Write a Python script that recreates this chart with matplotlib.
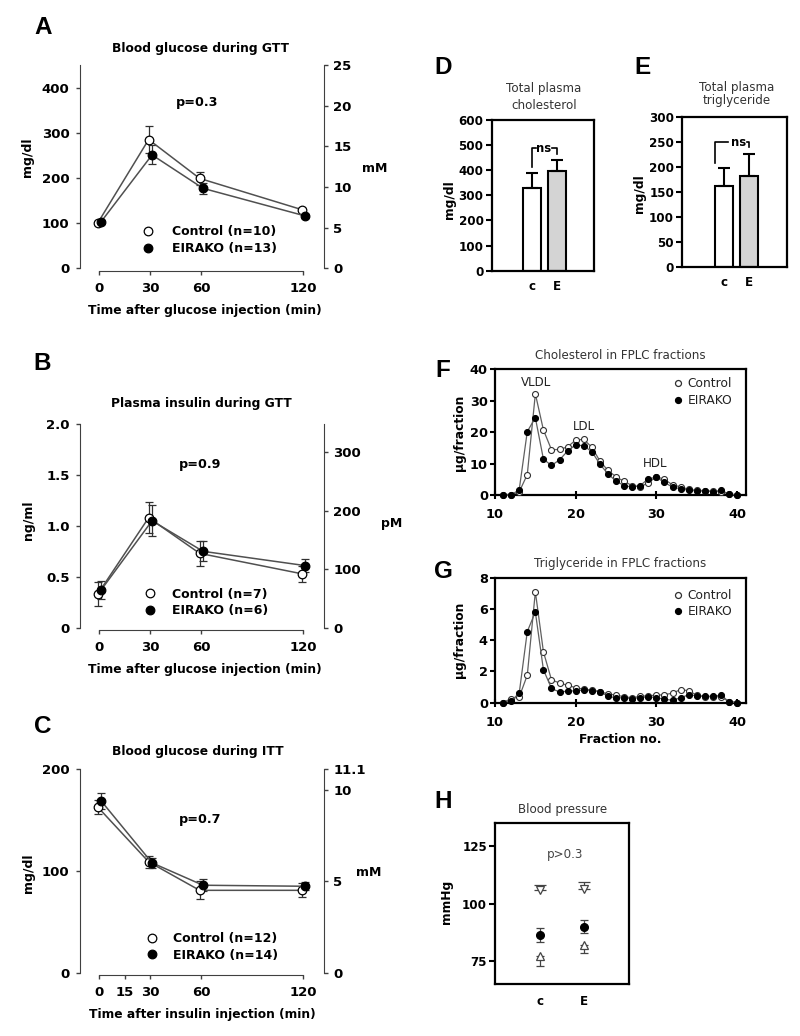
import numpy as np
import matplotlib.pyplot as plt
from matplotlib.lines import Line2D

plt.rcParams['font.family'] = 'DejaVu Sans'
plt.rcParams['font.weight'] = 'bold'

# ---- data ----
gtt_time = [0, 30, 60, 120]
gtt_glu_ctrl = [100, 285, 199, 130]
gtt_glu_ctrl_err = [4, 30, 15, 4]
gtt_glu_ko = [103, 251, 177, 116]
gtt_glu_ko_err = [4, 21, 12, 4]

gtt_ins_ctrl = [0.33, 1.08, 0.73, 0.53]
gtt_ins_ctrl_err = [0.12, 0.15, 0.12, 0.08]
gtt_ins_ko = [0.37, 1.05, 0.75, 0.61]
gtt_ins_ko_err = [0.09, 0.15, 0.10, 0.06]

itt_time = [0, 30, 60, 120]
itt_glu_ctrl = [163, 109, 81, 81]
itt_glu_ctrl_err = [7, 6, 9, 7]
itt_glu_ko = [169, 108, 86, 85]
itt_glu_ko_err = [8, 5, 6, 4]

groups = ['c', 'E']
chol_total = [328, 397]
chol_total_err = [62, 44]
tg_total = [162, 181]
tg_total_err = [35, 44]

fractions = list(range(11, 41))
chol_ctrl = [0, 0, 1.0, 6.5, 32.2, 20.7, 14.4, 14.5, 15.3, 17.5, 17.7, 15.2, 10.8, 7.8, 5.8,
             4.3, 3.0, 2.6, 3.9, 5.8, 5.0, 3.2, 2.6, 1.8, 1.5, 1.4, 1.2, 1.0, 0.3, 0]
chol_ko = [0, 0, 1.7, 20.2, 24.6, 11.4, 9.4, 11.2, 14.0, 16.0, 15.6, 13.8, 9.8, 6.7, 4.4,
           3.0, 2.5, 3.0, 5.2, 5.6, 4.0, 2.5, 2.0, 1.5, 1.3, 1.2, 1.1, 1.5, 0.3, 0]
tg_ctrl = [0, 0.25, 0.35, 1.75, 7.1, 3.25, 1.45, 1.25, 1.1, 0.95, 0.85, 0.8, 0.7, 0.55, 0.47,
           0.37, 0.3, 0.4, 0.43, 0.47, 0.5, 0.6, 0.83, 0.75, 0.47, 0.37, 0.37, 0.37, 0.05, 0]
tg_ko = [0, 0.1, 0.6, 4.55, 5.8, 2.1, 0.9, 0.67, 0.73, 0.75, 0.8, 0.75, 0.7, 0.4, 0.3,
         0.3, 0.25, 0.32, 0.36, 0.32, 0.2, 0.15, 0.3, 0.5, 0.43, 0.4, 0.4, 0.47, 0.05, 0]

bp_sys = [106, 106.5]
bp_sys_err = [2, 3]
bp_mean = [86.5, 90]
bp_mean_err = [3, 3]
bp_dia = [77, 82]
bp_dia_err = [4.3, 3.3]

W, H = 800, 1036
fig = plt.figure(figsize=(W / 100, H / 100), dpi=100)


def fx(x):
    return x / W


def fy(y):
    return 1 - y / H


def rect(l, t, r, b):
    return [fx(l), fy(b), (r - l) / W, (b - t) / H]


def label(x, y, s, **kw):
    kw.setdefault('ha', 'center')
    kw.setdefault('va', 'baseline')
    fig.text(fx(x), fy(y), s, **kw)


def key(x, y, filled, ms, mec='black'):
    fig.add_artist(Line2D([fx(x)], [fy(y)], marker='o', ms=ms, ls='none',
                          mfc='black' if filled else 'white', mec=mec, mew=0.9,
                          transform=fig.transFigure))


SP = '#404040'


def time_panel(times, xticks, ctrl, ctrl_err, ko, ko_err, ymax, yticks, ytl,
               rmax, rticks, rtl, top, bottom):
    ax = fig.add_axes(rect(80, top, 324, bottom))
    t = np.array(times, float)
    for dx, y, e, fc in [(-0.8, ctrl, ctrl_err, 'white'), (1.2, ko, ko_err, 'black')]:
        ax.errorbar(t + dx, y, yerr=e, color='#505050', lw=1.1, marker='o', ms=6.2,
                    mfc=fc, mec='black', mew=0.9, ecolor='#303030', elinewidth=0.9,
                    capsize=2.8, capthick=0.9, zorder=3)
    ax.set_xlim(-11.2, 132.4)
    ax.set_ylim(0, ymax)
    ax.set_xticks(xticks)
    ax.set_yticks(yticks)
    ax.set_yticklabels(ytl)
    for s in ['top', 'right']:
        ax.spines[s].set_visible(False)
    ax.spines['left'].set_bounds(0, ymax)
    ax.spines['bottom'].set_bounds(0, 120)
    ax.spines['bottom'].set_position(('outward', 1.8))
    for s in ['left', 'bottom']:
        ax.spines[s].set_color(SP)
    ax.tick_params(axis='y', length=3, width=1, color=SP, labelsize=9.5, pad=4.5)
    ax.tick_params(axis='x', length=2.6, width=1, color=SP, labelsize=9.5, pad=5.3)
    ax2 = ax.twinx()
    ax2.set_ylim(0, rmax)
    ax2.set_yticks(rticks)
    ax2.set_yticklabels(rtl)
    for s in ['left', 'top', 'bottom']:
        ax2.spines[s].set_visible(False)
    ax2.spines['right'].set_bounds(0, rmax)
    ax2.spines['right'].set_color(SP)
    ax2.tick_params(axis='y', length=3, width=1, color=SP, labelsize=9.5, pad=3.8)
    return ax


# ---- A ----
time_panel(gtt_time, [0, 30, 60, 120], gtt_glu_ctrl, gtt_glu_ctrl_err, gtt_glu_ko, gtt_glu_ko_err,
           450, [0, 100, 200, 300, 400], ['0', '100', '200', '300', '400'],
           25, [0, 5, 10, 15, 20, 25], ['0', '5', '10', '15', '20', '25'], 65, 268.3)
label(43, 34.3, 'A', fontsize=17.5, family='Liberation Sans')
label(200.5, 51.7, 'Blood glucose during GTT', fontsize=8.8)
label(197.5, 106, 'p=0.3', fontsize=9.2)
label(27.5, 157.5, 'mg/dl', fontsize=9, rotation=90, va='center')
label(374.7, 171.7, 'mM', fontsize=9)
label(205, 314, 'Time after glucose injection (min)', fontsize=8.8)
key(148.3, 231, False, 6.2)
key(148.3, 247.5, True, 6.2)
label(171.7, 235.3, 'Control (n=10)', fontsize=9, ha='left')
label(171.7, 251.7, 'EIRAKO (n=13)', fontsize=9, ha='left')

# ---- B ----
time_panel(gtt_time, [0, 30, 60, 120], gtt_ins_ctrl, gtt_ins_ctrl_err, gtt_ins_ko, gtt_ins_ko_err,
           2.0, [0, 0.5, 1.0, 1.5, 2.0], ['0', '0.5', '1.0', '1.5', '2.0'],
           348.4, [0, 100, 200, 300], ['0', '100', '200', '300'], 424, 627.7)
label(42.5, 370, 'B', fontsize=17.5, family='Liberation Sans')
label(201, 407.3, 'Plasma insulin during GTT', fontsize=8.8)
label(200, 468.3, 'p=0.9', fontsize=9.2)
label(29, 520, 'ng/ml', fontsize=9, rotation=90, va='center')
label(392, 526.7, 'pM', fontsize=9)
label(205, 672.7, 'Time after glucose injection (min)', fontsize=8.8)
key(150, 593.3, False, 6.2)
key(150, 609.5, True, 6.2)
label(171.7, 598.3, 'Control (n=7)', fontsize=9, ha='left')
label(171.7, 614.3, 'EIRAKO (n=6)', fontsize=9, ha='left')

# ---- C ----
time_panel(itt_time, [0, 15, 30, 60, 120], itt_glu_ctrl, itt_glu_ctrl_err, itt_glu_ko, itt_glu_ko_err,
           200, [0, 100, 200], ['0', '100', '200'],
           11.13, [0, 5, 10, 11.13], ['0', '5', '10', '11.1'], 769.3, 972.7)
label(42.5, 733.3, 'C', fontsize=17.5, family='Liberation Sans')
label(198.3, 755, 'Blood glucose during ITT', fontsize=8.8)
label(200.3, 822.7, 'p=0.7', fontsize=9.2)
label(28, 873.3, 'mg/dl', fontsize=9, rotation=90, va='center')
label(368.3, 876, 'mM', fontsize=9)
label(202, 1018.3, 'Time after insulin injection (min)', fontsize=8.8)
key(152, 937.7, False, 6.2)
key(152, 954, True, 6.2)
label(173.3, 942.3, 'Control (n=12)', fontsize=9, ha='left')
label(173.3, 959, 'EIRAKO (n=14)', fontsize=9, ha='left')


# ---- D / E ----
def bar_panel(box, xlim, vals, errs, ymax, ystep, br):
    ax = fig.add_axes(rect(*box))
    x = np.arange(len(vals))
    ax.bar(x, vals, width=0.72, color=['white', '#d4d4d4'], edgecolor='black', lw=1.5, zorder=2)
    ax.errorbar(x, vals, yerr=[[0] * len(vals), errs], fmt='none', ecolor='black',
                elinewidth=1.5, capsize=4.6, capthick=1.5, zorder=3)
    ax.set_xlim(*xlim)
    ax.set_ylim(0, ymax)
    ax.set_yticks(np.arange(0, ymax + 1, ystep))
    ax.set_xticks(x)
    ax.set_xticklabels(groups)
    for s in ax.spines.values():
        s.set_linewidth(1.6)
    ax.tick_params(axis='y', length=4.3, width=1.5, labelsize=8.6, pad=1.6)
    ax.tick_params(axis='x', length=0, labelsize=8.6, pad=7)
    # "ns" bracket
    lx, lb, top, tl, tr, rb, tx, ty = br
    ax.plot([lx, lx, tl], [lb, top, top], color='black', lw=1.2, zorder=3)
    ax.plot([tr, 1, 1], [top, top, rb], color='black', lw=1.2, zorder=3)
    ax.text(tx, ty, 'ns', ha='center', va='baseline', fontsize=8.4)
    return ax


bar_panel((491.7, 120, 594.3, 270.7), (-1.6, 2.5), chol_total, chol_total_err, 600, 100,
          (0, 414, 489, 0.16, 0.82, 465, 0.49, 474))
label(443.5, 74, 'D', fontsize=17.5, family='Liberation Sans')
label(544, 91.7, 'Total plasma', fontsize=8.6, weight='normal', color='#333333')
label(544, 109.3, 'cholesterol', fontsize=8.6, weight='normal', color='#333333')
label(449.3, 200, 'mg/dl', fontsize=8.8, rotation=90, va='center')

bar_panel((682.3, 116.7, 786.7, 266.7), (-1.668, 2.508), tg_total, tg_total_err, 300, 50,
          (-0.36, 207, 250, 0.17, 0.93, 240, 0.57, 242))
label(642, 74, 'E', fontsize=17.5, family='Liberation Sans')
label(736.7, 90.7, 'Total plasma', fontsize=8.6, weight='normal', color='#333333')
label(736.7, 104.3, 'triglyceride', fontsize=8.6, weight='normal', color='#333333')
label(639.3, 193.3, 'mg/dl', fontsize=8.8, rotation=90, va='center')


# ---- F / G ----
def fplc_panel(top, bottom, ctrl, ko, ymax, ystep):
    ax = fig.add_axes(rect(495, top, 746, bottom))
    ax.plot(fractions, ctrl, color='#606060', lw=0.9, marker='o', ms=4.3, mfc='white',
            mec='#303030', mew=0.8, clip_on=False, zorder=3)
    ax.plot(fractions, ko, color='#606060', lw=0.9, marker='o', ms=4.3, mfc='black',
            mec='black', mew=0.8, clip_on=False, zorder=4)
    ax.set_xlim(10, 41.1)
    ax.set_ylim(0, ymax)
    ax.set_xticks([10, 20, 30, 40])
    ax.set_yticks(np.arange(0, ymax + 0.1, ystep))
    for s in ax.spines.values():
        s.set_linewidth(1.6)
    ax.tick_params(axis='x', direction='inout', length=6, width=1.5, labelsize=9.3, pad=6.5)
    ax.tick_params(axis='y', direction='out', length=3.6, width=1.5, labelsize=9.3, pad=1.5)
    return ax


fplc_panel(369.3, 495, chol_ctrl, chol_ko, 40, 10)
label(442.5, 377.3, 'F', fontsize=17.5, family='Liberation Sans')
label(620.3, 359, 'Cholesterol in FPLC fractions', fontsize=8.6, weight='normal', color='#333333')
label(460, 433, 'µg/fraction', fontsize=8.8, rotation=90, va='center')
label(536, 385.7, 'VLDL', fontsize=8.6, weight='normal', color='#222222')
label(584, 430, 'LDL', fontsize=8.6, weight='normal', color='#222222')
label(655.5, 466.7, 'HDL', fontsize=8.6, weight='normal', color='#222222')
key(678.3, 383.3, False, 4.3, mec='#303030')
key(678.3, 400, True, 4.3)
label(687.3, 387.3, 'Control', fontsize=8.8, weight='normal', ha='left', color='#222222')
label(687.3, 404, 'EIRAKO', fontsize=8.8, weight='normal', ha='left', color='#222222')

fplc_panel(577.7, 702.5, tg_ctrl, tg_ko, 8, 2)
label(443.5, 578.3, 'G', fontsize=17.5, family='Liberation Sans')
label(620.3, 566.7, 'Triglyceride in FPLC fractions', fontsize=8.6, weight='normal', color='#333333')
label(460, 640, 'µg/fraction', fontsize=8.8, rotation=90, va='center')
label(620.3, 743.3, 'Fraction no.', fontsize=8.8)
key(678.3, 595, False, 4.3, mec='#303030')
key(678.3, 611, True, 4.3)
label(687.3, 599, 'Control', fontsize=8.8, weight='normal', ha='left', color='#222222')
label(687.3, 615, 'EIRAKO', fontsize=8.8, weight='normal', ha='left', color='#222222')

# ---- H ----
axh = fig.add_axes(rect(495, 823.3, 629.3, 984))
xb = np.arange(len(groups))
axh.errorbar(xb, bp_sys, yerr=[[0] * 2, bp_sys_err], fmt='v', ms=5.5, mfc='white', mec='#444444',
             mew=0.9, ecolor='#444444', elinewidth=0.9, capsize=4, capthick=0.9)
axh.errorbar(xb, bp_mean, yerr=bp_mean_err, fmt='o', ms=5.5, mfc='black', mec='black',
             ecolor='#444444', elinewidth=0.9, capsize=2.6, capthick=0.9)
axh.errorbar(xb, bp_dia, yerr=[bp_dia_err, [0] * 2], fmt='^', ms=5.5, mfc='white', mec='#444444',
             mew=0.9, ecolor='#444444', elinewidth=0.9, capsize=3, capthick=0.9)
axh.set_xlim(-1.016, 2.016)
axh.set_ylim(65, 135)
axh.set_yticks([75, 100, 125])
axh.set_xticks(xb)
axh.set_xticklabels(groups)
for s in axh.spines.values():
    s.set_linewidth(1.6)
axh.tick_params(axis='y', length=4, width=1.5, labelsize=8.6, pad=1.8)
axh.tick_params(axis='x', length=0, labelsize=8.6, pad=8)
label(443, 808.3, 'H', fontsize=17.5, family='Liberation Sans')
label(562.3, 813.3, 'Blood pressure', fontsize=8.6, weight='normal', color='#333333')
label(565, 858.3, 'p>0.3', fontsize=8.6, weight='normal', color='#444444')
label(446, 901.7, 'mmHg', fontsize=8.8, rotation=90, va='center')

fig.savefig('out.png', dpi=100)
